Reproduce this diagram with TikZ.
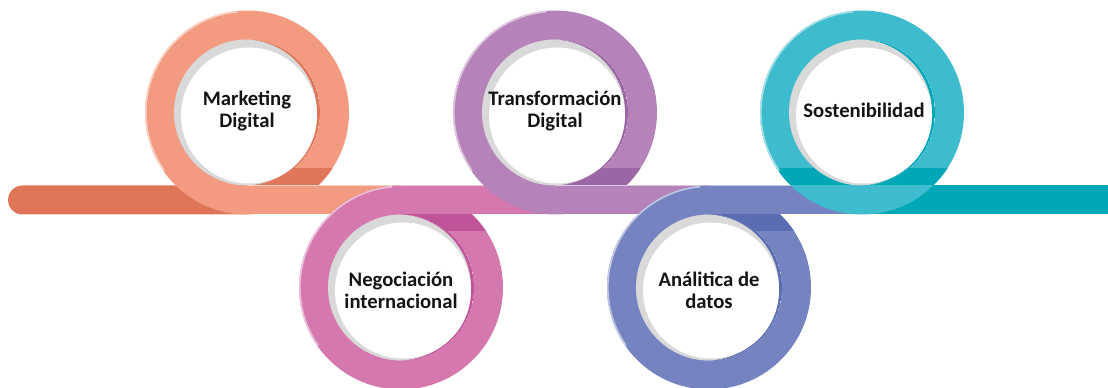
\documentclass[tikz,border=0pt]{standalone}
\usepackage{fontspec}
\setmainfont{Carlito}

\definecolor{bandorange}{HTML}{DF7659}
\definecolor{ringsalmon}{HTML}{F29B80}
\definecolor{shadesalmon}{HTML}{DF7659}
\definecolor{ringpink}{HTML}{D478AE}
\definecolor{shadepink}{HTML}{BF5499}
\definecolor{ringpurple}{HTML}{B583B9}
\definecolor{shadepurple}{HTML}{9C65A5}
\definecolor{ringblue}{HTML}{7584C1}
\definecolor{shadeblue}{HTML}{5A6DB2}
\definecolor{ringteal}{HTML}{3EBBCD}
\definecolor{shadeteal}{HTML}{00A8B7}
\definecolor{innergrey}{HTML}{D9D9D9}

\tikzset{
  looplabel/.style={font=\bfseries\fontsize{15.5}{16.5}\selectfont, align=center, text=black!92},
}

% one loop of the ribbon: #1 cx, #2 cy, #3 ring colour, #4 shade colour,
% #5/#6 bottom/top of the shade strip, #7 left end of the shade strip
\newcommand{\ribbonloop}[7]{%
  \fill[#3, even odd rule] (#1,#2) circle (102) (#1,#2) circle (73);
  \begin{scope}[even odd rule]
    \clip (#1,#2) circle (102) (#1,#2) circle (73);
    \fill[#4] (#7,#5) rectangle (#1+110,#6);
  \end{scope}
  \draw[#3!45!white, line width=1.2] (#1,#2) ++(95:101.2) arc (95:215:101.2);
  % the hole
  \begin{scope}
    \clip (#1,#2) circle (73);
    \fill[#4] (#1,#2) circle (73);
    \fill[innergrey] (#1-3,#2) circle (73);
    \fill[white] (#1+2,#2-3) circle (68);
  \end{scope}
}

\begin{document}
\begin{tikzpicture}[x=0.75pt,y=0.75pt]
\useasboundingbox (0,0) rectangle (1108,388);

% ribbon ends
\fill[bandorange] (247,173.5) -- (22.5,173.5) arc (270:90:14.5) -- (247,202.5) -- cycle;
\fill[shadeteal] (862,173.5) rectangle (1108,202.5);

% loops, each followed by the stretch of ribbon to the next one
\foreach \cx/\cy/\col/\shade/\ylo/\yhi/\sx/\nx in {
    247/275.5/ringsalmon/shadesalmon/202.5/220/247/401,
    401/100.5/ringpink/shadepink/157/173.5/401/555,
    555/275.5/ringpurple/shadepurple/202.5/220/555/709,
    709/100.5/ringblue/shadeblue/157/173.5/709/862,
    862/275.5/ringteal/shadeteal/202.5/220/752/862}
{
  \ribbonloop{\cx}{\cy}{\col}{\shade}{\ylo}{\yhi}{\sx}
  \fill[\col] (\cx,173.5) rectangle (\nx,202.5);
  \draw[\col!45!white, line width=0.8] (\cx,202.1) -- (\nx,202.1);
}

\node[looplabel] (marketing) at (247,277) {Marketing\\Digital};
\node[looplabel] (negociacion) at (401,98) {Negociación\\internacional};
\node[looplabel] (transformacion) at (555,277) {Transformación\\Digital};
\node[looplabel] (analitica) at (709,98) {Análitica de\\datos};
\node[looplabel] (sostenibilidad) at (864,278) {Sostenibilidad};
\end{tikzpicture}
\end{document}
